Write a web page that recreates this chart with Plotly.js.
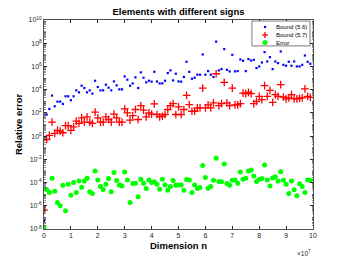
<!DOCTYPE html>
<html><head><meta charset="utf-8">
<script src="https://cdn.plot.ly/plotly-3.0.1.min.js"></script>
<style>html,body{margin:0;padding:0;background:#fff}#chart{width:346px;height:260px}</style>
</head><body><div id="chart"></div>
<script>
// dimension index (x = index * 1e6)
const dimIndex = Array.from({length: 100}, (_, i) => i);
// values, as log10 of relative error
const bound56Log = [-7.3,1.86,2.34,3.49,2.57,2.97,2.97,2.77,3.43,3.43,3.09,3.43,3.94,3.77,4.34,4.14,3.77,3.94,3.66,4.77,
 4.23,3.94,3.94,4.43,4.17,3.94,4.71,4.37,4.03,4.03,5.14,4.86,4.34,4.54,5.06,4.14,5.49,5.03,4.63,4.77,
 4.69,5.54,4.71,4.54,4.54,4.77,5.43,5.66,4.8,5.37,4.71,4.69,5.09,6.4,5.54,4.94,5.03,5.29,5.29,7.03,
 5.29,5.6,5.29,5.09,8.14,5.66,5.77,7.49,5.71,5.57,7.0,5.57,5.6,6.6,6.49,5.6,6.63,6.51,6.57,5.86,
 6.0,6.34,7.23,6.43,6.8,5.77,6.43,6.29,7.29,6.14,6.06,6.4,6.06,6.43,6.0,6.0,6.14,6.94,6.4,6.23];
const bound57Log = [-6.37,-0.29,0.06,1.2,0.23,0.49,0.43,0.29,0.91,0.91,0.49,0.8,1.29,1.09,1.57,1.2,1.66,1.2,1.09,2.06,
 1.57,1.2,1.2,1.66,1.43,1.2,1.89,1.57,1.2,1.2,2.34,2.0,1.37,1.77,2.29,1.43,2.63,2.23,1.66,2.0,
 1.89,2.77,1.86,1.66,1.71,1.86,2.29,2.63,2.8,1.86,2.51,1.86,2.29,3.51,2.71,2.14,2.14,2.43,2.43,4.14,
 2.43,2.69,2.43,2.86,5.37,2.63,2.8,4.63,2.86,2.63,4.14,2.69,2.69,2.8,3.71,3.66,3.77,3.66,2.8,3.0,
 3.43,3.14,4.34,3.43,3.94,2.91,3.57,3.43,4.43,3.37,3.2,3.29,3.57,3.2,3.2,3.26,3.29,4.06,3.43,3.34];
const errorLog = [-7.86,-4.6,-4.86,-3.63,-4.74,-5.71,-6.0,-4.23,-6.43,-4.14,-5.09,-4.0,-4.86,-3.86,-4.4,-3.86,-3.63,-4.8,-4.94,-3.0,
 -3.77,-4.34,-4.6,-4.14,-3.66,-4.8,-3.14,-3.83,-4.2,-4.29,-3.09,-3.77,-5.71,-4.09,-4.06,-5.23,-3.71,-4.06,-4.51,-3.77,
 -4.0,-3.94,-4.14,-4.57,-3.71,-4.2,-4.66,-4.34,-3.83,-4.23,-4.2,-4.2,-4.66,-3.74,-3.77,-4.86,-4.2,-4.51,-4.43,-2.54,
 -3.57,-4.49,-4.34,-3.8,-1.91,-3.91,-3.94,-2.4,-4.09,-4.23,-3.8,-3.77,-4.06,-3.09,-3.71,-3.63,-3.0,-2.91,-3.43,-3.91,
 -3.74,-3.66,-2.49,-3.77,-4.29,-3.6,-3.51,-3.86,-3.06,-3.8,-4.14,-4.94,-3.86,-4.63,-5.14,-4.11,-4.34,-4.86,-3.77,-3.8];
const seriesNames = ['Bound (5.6)', 'Bound (5.7)', 'Error'];
const xTickVals = [0,1e7,2e7,3e7,4e7,5e7,6e7,7e7,8e7,9e7,1e8];
const xTickText = ['0','1','2','3','4','5','6','7','8','9','10'];
const yTickExp = [-8,-6,-4,-2,0,2,4,6,8,10];

const xs = dimIndex.map(i => i * 1e6);
const toVal = a => a.map(e => Math.pow(10, e));
const font = 'Liberation Sans, Arial, sans-serif';
const BLUE = '#0000ff', RED = '#ff0000', GREEN = '#00ff00', AX = '#262626';

const traces = [
  {x: xs, y: toVal(bound56Log), mode: 'markers', type: 'scatter', name: seriesNames[0],
   marker: {symbol: 'square', size: 2.2, color: BLUE, line: {width: 0}}},
  {x: xs, y: toVal(bound57Log), mode: 'markers', type: 'scatter', name: seriesNames[1],
   marker: {symbol: 'cross-thin-open', size: 5.5, color: RED, line: {color: RED, width: 1.3}}},
  {x: xs, y: toVal(errorLog), mode: 'markers', type: 'scatter', name: seriesNames[2],
   marker: {symbol: 'circle', size: 5, color: GREEN, line: {width: 0}}}
];

const axisCommon = {showline: true, linecolor: AX, linewidth: 0.8, mirror: 'ticks', ticks: 'inside',
  ticklen: 3, tickcolor: AX, showgrid: false, zeroline: false,
  tickfont: {family: font, size: 7, color: AX}};

// compact legend (box + keys + labels) in paper coordinates
const legX0 = 0.773, legX1 = 0.989, legY0 = 0.876, legY1 = 0.995;
const keyX = 0.8216, textX = 0.855;
const rowY = [0.9665, 0.928, 0.892];
const shapes = [
  {type: 'rect', xref: 'paper', yref: 'paper', x0: legX0, x1: legX1, y0: legY0, y1: legY1,
   fillcolor: '#fff', line: {color: AX, width: 0.6}, layer: 'above'},
  {type: 'rect', xref: 'paper', yref: 'paper', xsizemode: 'pixel', ysizemode: 'pixel',
   xanchor: keyX, yanchor: rowY[0], x0: -1.1, x1: 1.1, y0: -1.1, y1: 1.1,
   fillcolor: BLUE, line: {width: 0}, layer: 'above'},
  {type: 'line', xref: 'paper', yref: 'paper', xsizemode: 'pixel', ysizemode: 'pixel',
   xanchor: keyX, yanchor: rowY[1], x0: -3, x1: 3, y0: 0, y1: 0, line: {color: RED, width: 1.3}, layer: 'above'},
  {type: 'line', xref: 'paper', yref: 'paper', xsizemode: 'pixel', ysizemode: 'pixel',
   xanchor: keyX, yanchor: rowY[1], x0: 0, x1: 0, y0: -3, y1: 3, line: {color: RED, width: 1.3}, layer: 'above'},
  {type: 'circle', xref: 'paper', yref: 'paper', xsizemode: 'pixel', ysizemode: 'pixel',
   xanchor: keyX, yanchor: rowY[2], x0: -2.5, x1: 2.5, y0: -2.5, y1: 2.5,
   fillcolor: GREEN, line: {width: 0}, layer: 'above'}
];

const annotations = seriesNames.map((n, i) => ({text: n, xref: 'paper', yref: 'paper', x: textX, y: rowY[i],
  xanchor: 'left', yanchor: 'middle', showarrow: false, font: {family: font, size: 6, color: '#000'}}));
annotations.push({text: '\u00d710<sup>7</sup>', xref: 'paper', yref: 'paper', x: 1.0, y: -0.085,
  xanchor: 'right', yanchor: 'top', showarrow: false, font: {family: font, size: 6.5, color: AX}});

const layout = {
  width: 346, height: 260,
  margin: {l: 44, r: 33, t: 20, b: 31},
  paper_bgcolor: '#fff', plot_bgcolor: '#fff',
  showlegend: false,
  title: {text: '<b>Elements with different signs</b>', font: {family: font, size: 9.5, color: '#000'},
          x: 0.5, xanchor: 'center', xref: 'paper', y: 0.955, yanchor: 'middle'},
  xaxis: Object.assign({}, axisCommon, {range: [0, 1e8], tickvals: xTickVals, ticktext: xTickText,
    title: {text: '<b>Dimension n</b>', font: {family: font, size: 9.5, color: '#000'}, standoff: 4}}),
  yaxis: Object.assign({}, axisCommon, {type: 'log', range: [-8, 10],
    tickvals: yTickExp.map(e => Math.pow(10, e)),
    ticktext: yTickExp.map(e => '10<sup>' + e + '</sup>'),
    minor: {dtick: 'D1', ticks: 'inside', ticklen: 1.5, tickcolor: AX, tickwidth: 0.5},
    title: {text: '<b>Relative error</b>', font: {family: font, size: 9.5, color: '#000'}, standoff: 4}}),
  shapes: shapes,
  annotations: annotations
};

Plotly.newPlot('chart', traces, layout, {displayModeBar: false, staticPlot: true});
</script>
</body></html>
